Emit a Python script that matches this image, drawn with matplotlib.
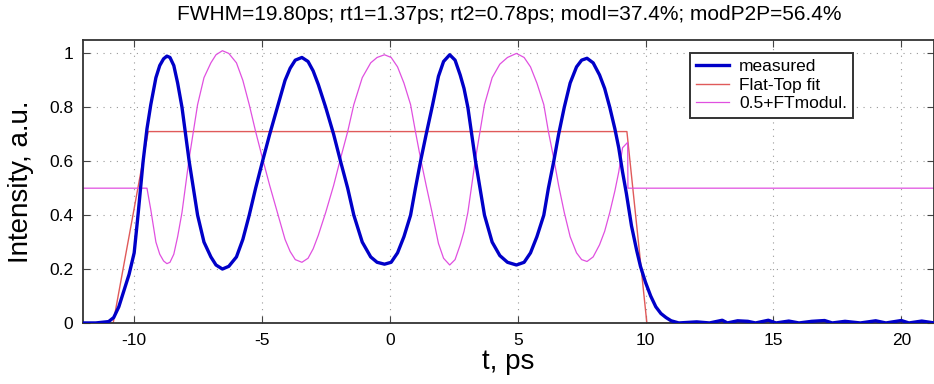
import matplotlib
matplotlib.use("Agg")
import matplotlib.pyplot as plt
from matplotlib.ticker import FormatStrFormatter

plt.rcParams['font.family'] = ['Liberation Sans', 'DejaVu Sans']
plt.rcParams['axes.unicode_minus'] = False

# measured pulse
t_meas = [-12.0, -11.5, -11.0, -10.8, -10.6, -10.4, -10.2, -10.0, -9.85, -9.65,
          -9.5, -9.35, -9.15, -9.0, -8.85, -8.72, -8.6, -8.45, -8.3, -8.13,
          -7.85, -7.52, -7.27, -7.0, -6.8, -6.55, -6.3, -6.0, -5.75, -5.5,
          -5.25, -4.98, -4.7, -4.4, -4.1, -3.9, -3.7, -3.44, -3.2, -3.0,
          -2.8, -2.51, -2.2, -1.93, -1.65, -1.41, -1.08, -0.75, -0.5, -0.21,
          0.05, 0.3, 0.55, 0.81, 1.0, 1.2, 1.42, 1.65, 1.9, 2.1,
          2.34, 2.55, 2.75, 2.9, 3.05, 3.35, 3.7, 4.0, 4.3, 4.6,
          4.95, 5.25, 5.5, 5.75, 6.02, 6.2, 6.41, 6.6, 6.82, 7.05,
          7.3, 7.5, 7.71, 7.95, 8.2, 8.4, 8.6, 8.8, 8.95, 9.1,
          9.25, 9.45, 9.65, 9.8, 10.0, 10.2, 10.4, 10.6, 10.8, 11.0,
          11.3, 12.0, 12.5, 13.0, 13.2, 13.6, 14.0, 14.3, 14.8, 15.1,
          15.6, 16.0, 16.5, 17.0, 17.3, 17.8, 18.4, 19.0, 19.4, 20.0,
          20.3, 20.8, 21.3]
measured = [0.0, 0.0, 0.005, 0.02, 0.06, 0.12, 0.18, 0.26, 0.40, 0.60,
            0.72, 0.81, 0.91, 0.955, 0.98, 0.99, 0.985, 0.955, 0.89, 0.80,
            0.60, 0.40, 0.30, 0.245, 0.215, 0.20, 0.21, 0.245, 0.31, 0.40,
            0.50, 0.60, 0.70, 0.80, 0.90, 0.945, 0.975, 0.985, 0.97, 0.935,
            0.885, 0.80, 0.70, 0.60, 0.50, 0.40, 0.30, 0.245, 0.225, 0.218,
            0.225, 0.26, 0.32, 0.40, 0.50, 0.60, 0.70, 0.80, 0.915, 0.97,
            0.995, 0.975, 0.92, 0.87, 0.80, 0.60, 0.40, 0.30, 0.25, 0.225,
            0.215, 0.225, 0.26, 0.32, 0.40, 0.50, 0.60, 0.70, 0.80, 0.89,
            0.95, 0.975, 0.982, 0.965, 0.92, 0.87, 0.80, 0.72, 0.65, 0.56,
            0.48, 0.36, 0.27, 0.21, 0.15, 0.10, 0.06, 0.035, 0.02, 0.008,
            0.0, 0.004, 0.0, 0.01, 0.0, 0.008, 0.006, 0.0, 0.01, 0.0,
            0.007, 0.0, 0.006, 0.009, 0.0, 0.006, 0.0, 0.008, 0.0, 0.009,
            0.0, 0.007, 0.0]

# flat-top fit corners
t_fit = [-12.0, -10.82, -9.45, 9.27, 10.05, 21.3]
flat_fit = [0.0, 0.0, 0.71, 0.71, 0.0, 0.0]

# 0.5 + flat-top modulation
t_mod = [-12.0, -9.5, -9.35, -9.15, -9.0, -8.85, -8.72, -8.6, -8.45, -8.3,
         -8.13, -7.85, -7.52, -7.27, -7.0, -6.8, -6.55, -6.3, -6.0, -5.75,
         -5.5, -5.25, -4.98, -4.7, -4.4, -4.1, -3.9, -3.7, -3.44, -3.2,
         -3.0, -2.8, -2.51, -2.2, -1.93, -1.65, -1.41, -1.08, -0.75, -0.5,
         -0.21, 0.05, 0.3, 0.55, 0.81, 1.0, 1.2, 1.42, 1.65, 1.9,
         2.1, 2.34, 2.55, 2.75, 2.9, 3.05, 3.35, 3.7, 4.0, 4.3,
         4.6, 4.95, 5.25, 5.5, 5.75, 6.02, 6.2, 6.41, 6.6, 6.82,
         7.05, 7.3, 7.5, 7.71, 7.95, 8.2, 8.4, 8.6, 8.8, 8.95,
         9.1, 9.3, 9.31, 21.3]
modul = [0.5, 0.5, 0.42, 0.30, 0.255, 0.23, 0.22, 0.225, 0.255, 0.32,
         0.41, 0.61, 0.81, 0.91, 0.965, 0.995, 1.01, 1.0, 0.965, 0.90,
         0.81, 0.71, 0.61, 0.51, 0.41, 0.31, 0.265, 0.235, 0.225, 0.24,
         0.275, 0.325, 0.41, 0.51, 0.61, 0.71, 0.81, 0.91, 0.965, 0.985,
         0.995, 0.985, 0.95, 0.89, 0.81, 0.71, 0.61, 0.51, 0.41, 0.295,
         0.24, 0.215, 0.235, 0.29, 0.34, 0.41, 0.61, 0.81, 0.91, 0.96,
         0.985, 1.0, 0.985, 0.95, 0.89, 0.81, 0.71, 0.61, 0.51, 0.41,
         0.32, 0.26, 0.235, 0.228, 0.245, 0.29, 0.34, 0.41, 0.49, 0.56,
         0.65, 0.67, 0.5, 0.5]

fig = plt.figure(figsize=(9.34, 3.84), dpi=100)
ax = fig.add_axes([0.0889, 0.159, 0.9111, 0.737])

ax.plot(t_meas, measured, color='#0000c8', lw=2.4, label='measured', zorder=3)
ax.plot(t_fit, flat_fit, color='#e05a5a', lw=1.0, label='Flat-Top fit', zorder=2)
ax.plot(t_mod, modul, color='#e050e0', lw=0.9, label='0.5+FTmodul.', zorder=2)

ax.set_xlim(-12, 21.28)
ax.set_ylim(0, 1.05)
ax.set_xticks([-10, -5, 0, 5, 10, 15, 20])
ax.set_yticks([0, 0.2, 0.4, 0.6, 0.8, 1])
ax.yaxis.set_major_formatter(FormatStrFormatter('%g'))
ax.grid(True, linestyle=(0, (1, 5)), color='#999999', lw=0.8)
ax.tick_params(direction='in', top=True, right=True, labelsize=12.5, length=5,
               color='#444444', pad=7)
for s in ax.spines.values():
    s.set_color('#333333')
    s.set_linewidth(1.3)

ax.set_xlabel('t, ps', fontsize=20, labelpad=1)
ax.set_ylabel('Intensity, a.u.', fontsize=20, labelpad=2)
ax.yaxis.set_label_coords(-0.058, 0.5)
fig.text(0.545, 0.962, 'FWHM=19.80ps; rt1=1.37ps; rt2=0.78ps; modI=37.4%; modP2P=56.4%',
         fontsize=15, ha='center', va='center')

leg = ax.legend(loc='upper right', bbox_to_anchor=(0.905, 0.954), borderaxespad=0,
                fontsize=12.5, fancybox=False, framealpha=1, edgecolor='#333333',
                handlelength=1.9, handletextpad=0.6, borderpad=0.35,
                labelspacing=0.2)
leg.get_frame().set_linewidth(1.4)

fig.savefig('out.png', dpi=100)
